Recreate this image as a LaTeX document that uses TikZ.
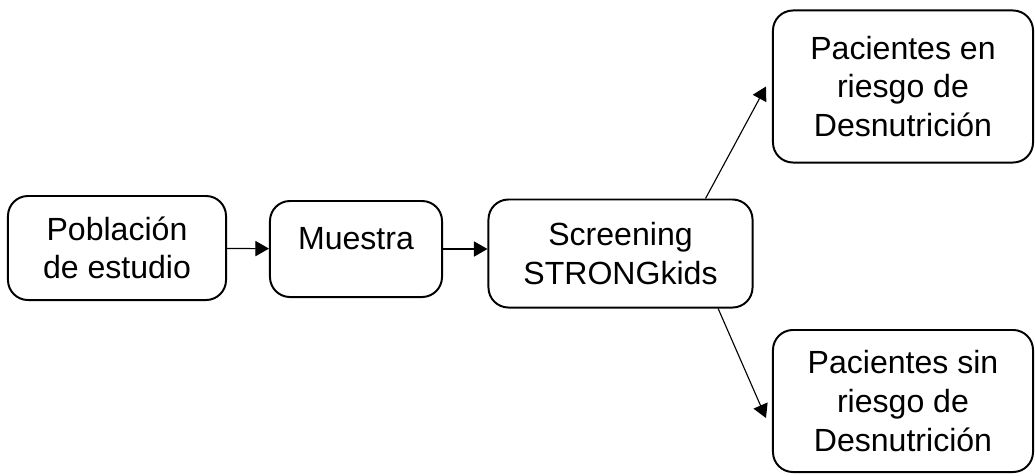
\documentclass[tikz,border=0pt]{standalone}
\usepackage{fontspec}
\setmainfont{Liberation Sans}
\usetikzlibrary{arrows.meta}
\begin{document}
\begin{tikzpicture}[x=0.025cm, y=-0.025cm,
    caja/.style={draw, line width=1.4pt, rounded corners=0.5cm, align=center,
                 font=\fontsize{22.8}{27.5}\selectfont, inner sep=0pt},
    flecha/.style={line width=0.8pt, -{Triangle[length=0.34cm, width=0.38cm]}}]

        \useasboundingbox (0,0) rectangle (1035,475);

        %Poblacion y muestra
        \node [caja, minimum width=5.45cm, minimum height=2.6cm] (pob) at (117,248) {Población\\de estudio};
        \node [caja, minimum width=4.3cm, minimum height=2.4cm, text height=0.5cm, text depth=0.5cm] (mue) at (356,249) {Muestra};

        %Screening
        \node [caja, minimum width=6.6cm, minimum height=2.7cm] (scr) at (620.5,253.5) {Screening\\STRONGkids};

        %Resultados
        \node [caja, minimum width=6.5cm, minimum height=3.8cm] (en) at (903,86.5) {Pacientes en\\riesgo de\\Desnutrición};
        \node [caja, minimum width=6.5cm, minimum height=3.55cm] (sin) at (903,401) {Pacientes sin\\riesgo de\\Desnutrición};

        \draw [flecha] (pob) -- (mue);
        \draw [flecha] (mue.east) -- (mue.east -| scr.west);
        \draw [flecha] ([xshift=2.125cm]scr.north) -- ([xshift=-0.15cm]en.west);
        \draw [flecha] ([xshift=2.44cm]scr.south) -- ([shift={(-0.15cm,-0.425cm)}]sin.west);

\end{tikzpicture}
\end{document}
